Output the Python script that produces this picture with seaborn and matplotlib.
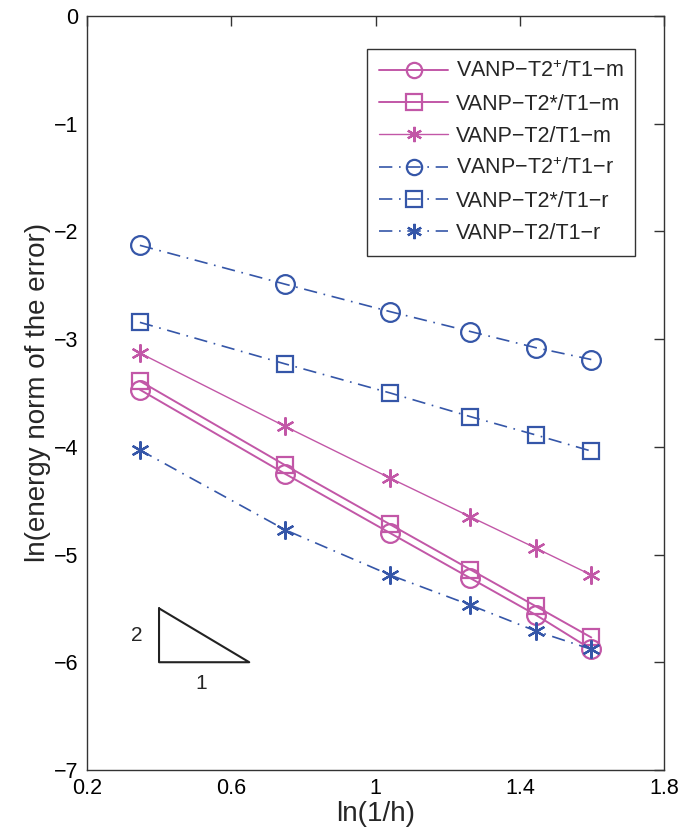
import numpy as np
import pandas as pd
import seaborn as sns
from matplotlib import pyplot as plt

# ln(1/h) for the six meshes
x_vals = [0.347, 0.749, 1.040, 1.263, 1.444, 1.598]

# ln(energy norm of the error)
m_t2plus = [-3.47, -4.25, -4.80, -5.22, -5.56, -5.88]
m_t2star = [-3.39, -4.17, -4.72, -5.14, -5.48, -5.77]
m_t2 = [-3.13, -3.81, -4.29, -4.65, -4.94, -5.19]
r_t2plus = [-2.13, -2.49, -2.745, -2.93, -3.08, -3.19]
r_t2star = [-2.845, -3.23, -3.50, -3.72, -3.89, -4.04]
r_t2 = [-4.03, -4.77, -5.19, -5.47, -5.71, -5.88]

labels = [
    'VANP\u2212T2$^{+}$/T1\u2212m',
    'VANP\u2212T2*/T1\u2212m',
    'VANP\u2212T2/T1\u2212m',
    'VANP\u2212T2$^{+}$/T1\u2212r',
    'VANP\u2212T2*/T1\u2212r',
    'VANP\u2212T2/T1\u2212r',
]

# slope triangle (rise 2 over run 1)
tri_x = [0.40, 0.40, 0.65, 0.40]
tri_y = [-5.5, -6.0, -6.0, -5.5]

MAGENTA = '#C257A7'
BLUE = '#3556A8'
STAR = (6, 2, 0)
DASHDOT = (0, (8, 4, 1, 4))

sns.set_style('white')
plt.rcParams['font.family'] = ['Liberation Sans', 'DejaVu Sans']
plt.rcParams['mathtext.fontset'] = 'custom'
plt.rcParams['mathtext.rm'] = 'Liberation Sans'

fig = plt.figure(figsize=(6.84, 8.36), dpi=100)
ax = fig.add_axes([0.127, 0.079, 0.844, 0.902])

series = [
    (m_t2plus, MAGENTA, '-', 'o', 13.5, 1.4),
    (m_t2star, MAGENTA, '-', 's', 11.5, 1.4),
    (m_t2, MAGENTA, '-', STAR, 13, 1.0),
    (r_t2plus, BLUE, DASHDOT, 'o', 13.5, 1.2),
    (r_t2star, BLUE, DASHDOT, 's', 11.5, 1.2),
    (r_t2, BLUE, DASHDOT, STAR, 13, 1.2),
]

for (vals, col, ls, mk, ms, lw), lab in zip(series, labels):
    df = pd.DataFrame({'x': x_vals, 'y': vals})
    sns.lineplot(data=df, x='x', y='y', ax=ax, color=col, linestyle=ls,
                 linewidth=lw, marker=mk, markersize=ms, markerfacecolor='none',
                 markeredgecolor=col, markeredgewidth=1.6, label=lab)

ax.plot(tri_x, tri_y, color='#222222', linewidth=1.5)
ax.text(0.339, -5.75, '2', fontsize=15, ha='center', va='center')
ax.text(0.518, -6.2, '1', fontsize=15, ha='center', va='center')

ax.set_xlim(0.2, 1.8)
ax.set_ylim(-7, 0)
ax.set_xticks([0.2, 0.6, 1.0, 1.4, 1.8])
ax.set_xticklabels(['0.2', '0.6', '1', '1.4', '1.8'])
ax.set_yticks(range(-7, 1))
ax.set_yticklabels([str(v).replace('-', '\u2212') for v in range(-7, 1)])
ax.tick_params(direction='in', length=7, width=1, top=True, right=True,
               labelsize=15.5, colors='#333333', labelcolor='black', pad=6)
for sp in ax.spines.values():
    sp.set_color('#333333')
    sp.set_linewidth(1.0)

ax.set_xlabel('ln(1/h)', fontsize=20, labelpad=1)
ax.set_ylabel('ln(energy norm of the error)', fontsize=20, labelpad=2)

leg = ax.legend(loc='upper right', bbox_to_anchor=(0.95, 0.956), borderaxespad=0,
                fontsize=15.5, handlelength=3.2, frameon=True, fancybox=False,
                edgecolor='#333333', framealpha=1, labelspacing=0.52,
                handletextpad=0.35, borderpad=0.55)
leg.get_frame().set_linewidth(1.0)
for h in leg.legend_handles:
    h.set_markersize(11)

fig.savefig('out.png', dpi=100)
